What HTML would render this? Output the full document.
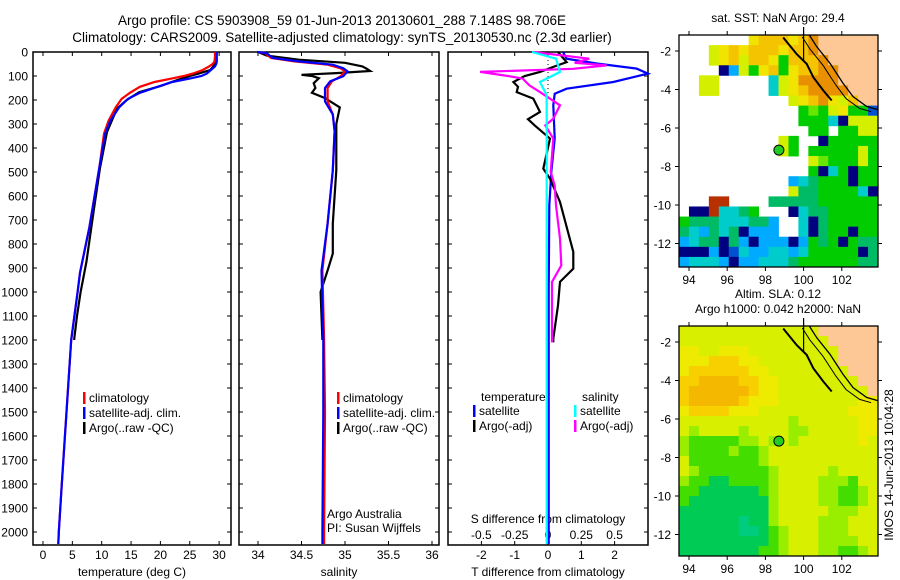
<!DOCTYPE html>
<html><head><meta charset="utf-8"><style>
html,body{margin:0;padding:0;background:#fff;}
svg{display:block;font-family:"Liberation Sans",sans-serif;}
</style></head><body>
<svg id="c" width="900" height="580" viewBox="0 0 900 580" xmlns="http://www.w3.org/2000/svg">
<text x="342" y="25" text-anchor="middle" font-size="13.5">Argo profile: CS 5903908_59 01-Jun-2013 20130601_288 7.148S 98.706E</text>
<text x="342" y="42" text-anchor="middle" font-size="13.5">Climatology: CARS2009. Satellite-adjusted climatology: synTS_20130530.nc (2.3d earlier)</text>
</svg>
<script>
// ---------- data ----------
const depthTicks=[0,100,200,300,400,500,600,700,800,900,1000,1100,1200,1300,1400,1500,1600,1700,1800,1900,2000];
const tempTicks=[0,5,10,15,20,25,30];
const salTicks=[34,34.5,35,35.5,36];
const salTickLabels=["34","34.5","35","35.5","36"];
const dTTicks=[-2,-1,0,1,2];
const dSTicks=[-0.5,-0.25,0,0.25,0.5];
const dSTickLabels=["-0.5","-0.25","0","0.25","0.5"];

const tDepth=[0,20,40,50,60,75,90,100,110,125,145,170,195,230,285,340,480,730,920,1000,1200,1500,1800,2000,2050];
const tClim=[29.3,29.3,29.2,28.9,28.3,27.2,25.5,24,22,19,16.5,14.8,13.4,12.4,11.2,10.4,9.6,7.9,6.3,5.9,4.8,4.0,3.2,2.7,2.6];
const tSat=[29.6,29.6,29.6,29.5,29.3,28.6,27.9,27,25.1,22,19.5,16.5,14.5,13,11.5,10.6,9.6,7.9,6.3,5.9,4.8,4.0,3.2,2.7,2.6];
const aDepth=[0,20,42,60,75,90,100,120,142,167,201,236,333,486,667,875,1000,1100,1200];
const aT=[29.5,29.5,29.4,29.0,28.5,26.5,25,22.5,20,16.4,14.2,12.6,10.9,9.7,8.6,7.4,6.4,5.8,5.3];

const sDepth=[0,5,25,39,53,68,81,101,122,150,206,260,330,493,715,910,1200,1500,2000,2050];
const sSat=[33.99,34.1,34.17,34.47,34.86,34.98,35.03,34.98,34.83,34.77,34.77,34.86,34.88,34.86,34.8,34.73,34.75,34.75,34.74,34.74];
const sClim=[33.99,34.08,34.15,34.42,34.8,34.95,35.0,34.95,34.85,34.8,34.8,34.86,34.88,34.86,34.8,34.74,34.76,34.77,34.76,34.76];
const aSDepth=[0,15,32,45,60,70,79,88,95,100,109,130,150,170,192,231,300,400,493,600,715,840,910,1000,1100,1200];
const aS=[34.0,34.1,34.47,35.0,35.2,35.25,35.29,34.9,34.5,34.62,34.7,34.64,34.66,34.62,34.77,34.94,34.9,34.9,34.9,34.88,34.86,34.86,34.8,34.72,34.73,34.74];

const dTsDepth=[0,28,48,69,90,125,153,174,222,361,500,639,1000,2050];
const dTsat=[0.45,0.56,1.46,2.66,3.0,1.96,0.56,0.2,0.16,0.2,0.1,0.04,0.02,0.02];
const dTaDepth=[0,42,60,83,100,125,145,167,194,250,280,306,361,486,528,625,750,833,903,958,1056,1194,1210];
const dTarg=[0.3,0.56,0.2,-0.24,-0.7,-1.04,-0.9,-0.94,-0.44,-0.24,-0.6,-0.4,0.06,-0.14,0.06,0.36,0.6,0.76,0.76,0.36,0.3,0.16,0.16];
const dSaDepth=[0,28,45,56,70,83,100,111,139,167,222,278,306,361,500,556,639,778,889,958,1056,1194,1210];
const dSarg=[-0.11,0.31,0.2,0.44,0.19,-0.51,-0.3,-0.19,-0.14,-0.06,0.09,0.04,-0.02,0.04,0.02,0.05,0.06,0.09,0.1,0.03,0.03,0.03,0.03];
const dSsDepth=[0,28,83,125,180,400,2050];
const dSsat=[-0.12,0.06,0.09,-0.06,-0.01,-0.01,-0.01];

const lonTicks=[94,96,98,100,102];
const latTicks=[-2,-4,-6,-8,-10,-12];
const argoLon=98.706, argoLat=-7.148;
const coastLon=[100.3,100.69,101.38,102.06,102.59,103.3,103.9];
const coastLat=[-1.17,-1.78,-2.64,-3.67,-4.37,-4.88,-5.05];
const islandLon=[98.93,99.64,100.16,100.51,101.03,101.47];
const islandLat=[-1.3,-2.16,-2.67,-3.36,-4.05,-4.57];

const sstGrid=[
".......yoooyoOLLLLLL",
"...YyoyoooyooOLLLLLL",
"...YyoYooyGoooOLLLLL",
"....NBYGyoGyooOOLLLL",
"..YY.....CYyOOOOLLLL",
"..YY.....CYyoOOOOLLL",
"...........YyoOyYoLL",
"............GgGYyGGb",
"............GGGCNYYY",
".............GG.GGYY",
"..........YG..NGGGGG",
"..........YG.GGGGGYG",
".............YgGGGYG",
".............GNCGNGG",
"...........BCTGGGNGG",
"...........YTTGGGGCN",
"...RR....TTTTTGGGGGG",
".NNRCCTG...NCTTGGGGG",
"GTTTCCCTTB..CNTGGGGG",
"TCBTCTNBBB..CNTGGNGG",
"BCTTNTBNBBBNBGTGNGTT",
"NNNBNbCBBCCBCGGGGGNT",
"BCCCBNBBCCCTGGGGGGTT"];
const slaGrid=[
"YYYYYYYYYYYYYYLLLLLL",
"YYYYYYYYYYYYYYYLLLLL",
"yyYYyyyYYYYYYYYYLLLL",
"yyyoooyyYYYYYYYYLLLL",
"yooooooyyYYYYYYYYLLL",
"ooOOOOooyyYYYYYYYYLL",
"oOOOOOOoyyYYYYYYYYYL",
"oOOOOOoyyyYYYYYYYYyy",
"yooooyyyYYYYYYYYYyyy",
"YYYYYYYYYYYgYYYYYYyy",
"YgYYYYgYYYYggYYYYYyy",
"gGGGGGggYgYgYYYYYYyY",
"gGGGGgGGgYYYYYYYYYYY",
"YGGGGGGGgYYYYYYYYYYY",
"YgGGGGGGGgYYYYYgYYYY",
"gGGTTGGGGgYYYYgggGYY",
"GGTTTTTTGgYYYYggGGgY",
"GTTTTTTTTgYYYYggGGgY",
"TTTTTTTTTgYYYYYgggYY",
"TTTTTTtTTgYYYYgggYYY",
"TTTTTTttTGgYYYgggYYY",
"TTTTTTTTTGgYYYggggYY",
"TTTTTTTTGGgYYYggGGgY"];
</script>
<script>
const NS="http://www.w3.org/2000/svg";
const svg=document.getElementById('c');
function mk(tag,attrs,parent){const e=document.createElementNS(NS,tag);for(const k in attrs)e.setAttribute(k,attrs[k]);(parent||svg).appendChild(e);return e;}
function txt(x,y,s,size,anchor,parent){const t=mk('text',{x:x,y:y,'font-size':size||12,'text-anchor':anchor||'middle'},parent);t.textContent=s;return t;}

const TOP=52,BOT=545;
const yD=d=>TOP+d*0.24;
function panel(name,x0,x1){
  const g=mk('g',{});
  
  
  mk('rect',{x:x0,y:TOP,width:x1-x0,height:BOT-TOP,fill:'#fff',stroke:'#000','stroke-width':1.5},g);
  depthTicks.forEach(d=>{const y=yD(d);
    mk('line',{x1:x0,x2:x0+4,y1:y,y2:y,stroke:'#000'},g);
    mk('line',{x1:x1-4,x2:x1,y1:y,y2:y,stroke:'#000'},g);});
  return g;
}
function line(g,xs,ds,fx,color,name,w){
  const pts=xs.map((v,i)=>fx(v).toFixed(1)+','+yD(ds[i]).toFixed(1)).join(' ');
  const p=mk('polyline',{points:pts,fill:'none',stroke:color,'stroke-width':w||2.2,'stroke-linejoin':'miter'},g);
  
  
}
// depth labels
const yl=mk('g',{});


depthTicks.forEach(d=>txt(28,yD(d)+4.5,String(d),12,'end',yl));

// Panel 1 temperature
const xT=t=>43+t*5.87;
const g1=panel('temperature-panel',33,231);
tempTicks.forEach(t=>{const x=xT(t);mk('line',{x1:x,x2:x,y1:BOT,y2:BOT-4,stroke:'#000'},g1);mk('line',{x1:x,x2:x,y1:TOP,y2:TOP+4,stroke:'#000'},g1);txt(x,559,String(t),12,'middle',g1);});
txt(132,576,'temperature (deg C)',12,'middle',g1);
line(g1,aT,aDepth,xT,'#000','argo-temperature-line');
line(g1,tClim,tDepth,xT,'#f00','climatology-temperature-line');
line(g1,tSat,tDepth,xT,'#00f','satellite-temperature-line');
function legend(g,x,y,items,name){
  const lg=mk('g',{},g);
  
  
  items.forEach((it,i)=>{mk('rect',{x:x,y:y+i*15-10,width:2.5,height:12,fill:it[1]},lg);txt(x+6,y+i*15,it[0],12,'start',lg);});
}
legend(g1,83,402,[['climatology','#f00'],['satellite-adj. clim.','#00f'],['Argo(..raw -QC)','#000']],'temperature-legend');

// Panel 2 salinity
const xS=s=>258+(s-34)*87;
const g2=panel('salinity-panel',239,439);
salTicks.forEach((s,i)=>{const x=xS(s);mk('line',{x1:x,x2:x,y1:BOT,y2:BOT-4,stroke:'#000'},g2);mk('line',{x1:x,x2:x,y1:TOP,y2:TOP+4,stroke:'#000'},g2);txt(x,559,salTickLabels[i],12,'middle',g2);});
txt(339,576,'salinity',12,'middle',g2);
line(g2,aS,aSDepth,xS,'#000','argo-salinity-line');
line(g2,sClim,sDepth,xS,'#f00','climatology-salinity-line');
line(g2,sSat,sDepth,xS,'#00f','satellite-salinity-line');
legend(g2,337,402,[['climatology','#f00'],['satellite-adj. clim.','#00f'],['Argo(..raw -QC)','#000']],'salinity-legend');
txt(327,518,'Argo Australia',12,'start',g2);
txt(327,532,'PI: Susan Wijffels',12,'start',g2);

// Panel 3 differences
const xdT=v=>548+v*33.3;
const xdS=v=>548+v*133.2;
const g3=panel('difference-panel',448,648);
dTTicks.forEach(t=>{const x=xdT(t);mk('line',{x1:x,x2:x,y1:BOT,y2:BOT-4,stroke:'#000'},g3);mk('line',{x1:x,x2:x,y1:TOP,y2:TOP+4,stroke:'#000'},g3);txt(x,559,String(t),12,'middle',g3);});
dSTicks.forEach((t,i)=>txt(xdS(t),539,dSTickLabels[i],12,'middle',g3));
txt(548,523,'S difference from climatology',12,'middle',g3);
txt(548,576,'T difference from climatology',12,'middle',g3);
mk('line',{x1:548,x2:548,y1:TOP,y2:yD(200),stroke:'#000','stroke-dasharray':'1,3'},g3);
line(g3,dTsat,dTsDepth,xdT,'#00f','satellite-temperature-difference-line');
line(g3,dTarg,dTaDepth,xdT,'#000','argo-temperature-difference-line');
line(g3,dSarg,dSaDepth,xdS,'#f0f','argo-salinity-difference-line');
line(g3,dSsat,dSsDepth,xdS,'#0ff','satellite-salinity-difference-line');
txt(481,401,'temperature',12,'start',g3);
txt(582,401,'salinity',12,'start',g3);
legend(g3,473,415,[['satellite','#00f'],['Argo(-adj)','#000']],'temperature-difference-legend');
legend(g3,574,415,[['satellite','#0ff'],['Argo(-adj)','#f0f']],'salinity-difference-legend');

// Maps
const colors={'.':'#fff',L:'#fdc896',Y:'#d4f000',y:'#f0e400',o:'#f5c400',O:'#e89000',G:'#00cc00',g:'#66e600',T:'#00bb66',t:'#00c890',C:'#00cccc',B:'#00aaff',N:'#000080',b:'#0050d0',R:'#b83000'};
const colorsSla={L:'#fdc896',Y:'#d8f000',y:'#eeea00',o:'#f8d000',O:'#f5b800',g:'#99ee00',G:'#44dd00',T:'#00cc55',t:'#00cc80'};
function map(name,x0,y0,x1,y1,grid,pal,titles){
  const g=mk('g',{});
  
  
  const lx=lon=>689+(lon-94)*19.1;
  const ly=lat=>(y0+16)+(-2-lat)*((y1-y0-23)/(10.52+0.2))*0+ (y0+16) - (y0+16) + (-2-lat)*19.25;
  const cw=(x1-x0)/20,ch=(y1-y0)/23;
  grid.forEach((row,r)=>{for(let c=0;c<20;c++){const k=row[c];if(k==='.')continue;
    mk('rect',{x:(x0+c*cw).toFixed(2),y:(y0+r*ch).toFixed(2),width:(cw+0.4).toFixed(2),height:(ch+0.4).toFixed(2),fill:pal[k]},g);}});
  // coast line
  mk('polyline',{points:coastLon.map((l,i)=>lx(l).toFixed(1)+','+ly(coastLat[i]).toFixed(1)).join(' '),fill:'none',stroke:'#000','stroke-width':1.3},g);
  mk('polyline',{points:coastLon.map((l,i)=>(lx(l)-7).toFixed(1)+','+(ly(coastLat[i])+2).toFixed(1)).join(' '),fill:'none',stroke:'#000','stroke-width':1},g);
  mk('polyline',{points:islandLon.map((l,i)=>lx(l).toFixed(1)+','+ly(islandLat[i]).toFixed(1)).join(' '),fill:'none',stroke:'#000','stroke-width':2},g);
  mk('line',{x1:lx(100),x2:lx(100),y1:y0-8,y2:y0+25,stroke:'#000','stroke-width':1.2},g);
  const dot=mk('circle',{cx:lx(argoLon),cy:ly(argoLat),r:5,fill:'#22cc22',stroke:'#000','stroke-width':1},g);
  
  
  mk('rect',{x:x0,y:y0,width:x1-x0,height:y1-y0,fill:'none',stroke:'#000','stroke-width':1.3},g);
  lonTicks.forEach(l=>{const x=lx(l);mk('line',{x1:x,x2:x,y1:y0,y2:y0-4,stroke:'#000'},g);mk('line',{x1:x,x2:x,y1:y1,y2:y1+4,stroke:'#000'},g);txt(x,y1+17,String(l),12,'middle',g);});
  latTicks.forEach(l=>{const y=ly(l);mk('line',{x1:x0,x2:x0-4,y1:y,y2:y,stroke:'#000'},g);mk('line',{x1:x1,x2:x1+4,y1:y,y2:y,stroke:'#000'},g);txt(671,y+4.5,String(l),12,'end',g);});
  titles.forEach((t,i)=>txt(778,y0-(titles.length-i)*15+2,t,12,'middle',g));
}
map('sst-map',679,35,878,267,sstGrid,colors,['sat. SST: NaN Argo: 29.4']);
map('sla-map',679,326,878,556,slaGrid,colorsSla,['Altim. SLA: 0.12','Argo h1000: 0.042 h2000: NaN']);
const st=txt(0,0,'IMOS 14-Jun-2013 10:04:28',12,'middle');
st.setAttribute('transform','translate(893,465) rotate(-90)');


</script>
</body></html>
